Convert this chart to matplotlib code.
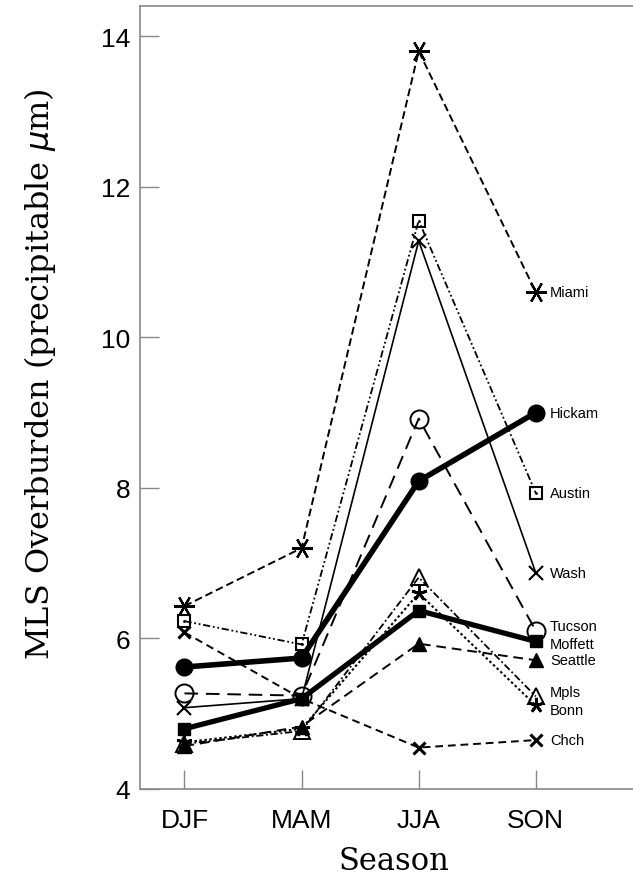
import matplotlib
matplotlib.use("Agg")
import matplotlib.pyplot as plt

seasons = ["DJF", "MAM", "JJA", "SON"]
x_pos = [1, 2, 3, 4]

miami = [6.43, 7.20, 13.80, 10.60]
hickam = [5.62, 5.74, 8.09, 9.00]
austin = [6.23, 5.92, 11.55, 7.93]
wash = [5.08, 5.20, 11.28, 6.87]
tucson = [5.27, 5.24, 8.92, 6.10]
moffett = [4.80, 5.20, 6.37, 5.96]
seattle = [4.57, 4.83, 5.93, 5.71]
mpls = [4.60, 4.77, 6.81, 5.23]
bonn = [4.62, 4.80, 6.60, 5.11]
chch = [6.08, 5.20, 4.55, 4.65]

station_names = ["Miami", "Hickam", "Austin", "Wash", "Tucson", "Moffett",
                 "Seattle", "Mpls", "Bonn", "Chch"]
yticks = [4, 6, 8, 10, 12, 14]

fig = plt.figure(figsize=(6.33, 8.79), dpi=100)
ax = fig.add_axes([140/633, 89/879, 493/633, 783/879])

series = [
    (miami, dict(ls=(0, (4, 2)), lw=1.4, marker=(6, 2, 90), ms=15, mew=1.6, mfc='k')),
    (hickam, dict(ls='-', lw=4.0, marker='o', ms=12, mfc='k')),
    (austin, dict(ls=(0, (4, 1.5, 1, 1.5, 1, 1.5)), lw=1.3, marker='s', ms=9, mfc='none', mew=1.5)),
    (wash, dict(ls='-', lw=1.2, marker='x', ms=10, mew=1.5)),
    (tucson, dict(ls=(0, (7, 4)), lw=1.4, marker='o', ms=13, mfc='none', mew=1.4)),
    (moffett, dict(ls='-', lw=3.8, marker='s', ms=9, mfc='k')),
    (seattle, dict(ls=(0, (5, 3)), lw=1.4, marker='^', ms=10, mfc='k')),
    (mpls, dict(ls=(0, (4, 1.5, 1, 1.5)), lw=1.3, marker='^', ms=12, mfc='none', mew=1.4)),
    (bonn, dict(ls=(0, (1.2, 1.2)), lw=1.5, marker=(5, 2, 0), ms=11, mew=2.0)),
    (chch, dict(ls=(0, (4, 2.5)), lw=1.4, marker='x', ms=9, mew=2.2)),
]

for vals, st in series:
    ax.plot(x_pos, vals, color='k', mec='k', **st)

# Austin inner dot
ax.plot(x_pos, austin, ls='none', marker='.', ms=2, color='k')

label_offsets = {"Tucson": 0.06, "Moffett": -0.03, "Mpls": 0.06, "Bonn": -0.06}
for name, vals in zip(station_names, [s[0] for s in series]):
    ax.text(4.12, vals[-1] + label_offsets.get(name, 0), name, fontsize=10.5,
            family='Liberation Sans', va='center', ha='left')

ax.set_xlim(0.62, 4.83)
ax.set_ylim(4, 14.4)
ax.set_xticks(x_pos)
ax.set_xticklabels(seasons)
ax.set_yticks(yticks)
ax.set_yticklabels([str(v) for v in yticks])

for lab in ax.get_xticklabels() + ax.get_yticklabels():
    lab.set_family('Liberation Sans')
    lab.set_fontsize(19)

ax.tick_params(axis='both', direction='in', length=14, width=1, color='#888888')
ax.tick_params(axis='x', pad=14)
ax.tick_params(axis='y', pad=7)
for side in ['left', 'top', 'bottom']:
    ax.spines[side].set_color('#888888')
    ax.spines[side].set_linewidth(1.2)
ax.spines['right'].set_visible(False)

ax.set_xlabel("Season", family='DejaVu Serif', fontsize=22)
ax.set_ylabel(r"MLS Overburden (precipitable $\mu$m)", family='DejaVu Serif',
              fontsize=23)
ax.xaxis.set_label_coords(0.515, -0.072)
ax.yaxis.set_label_coords(-0.167, 0.531)

fig.savefig("out.png", dpi=100)
